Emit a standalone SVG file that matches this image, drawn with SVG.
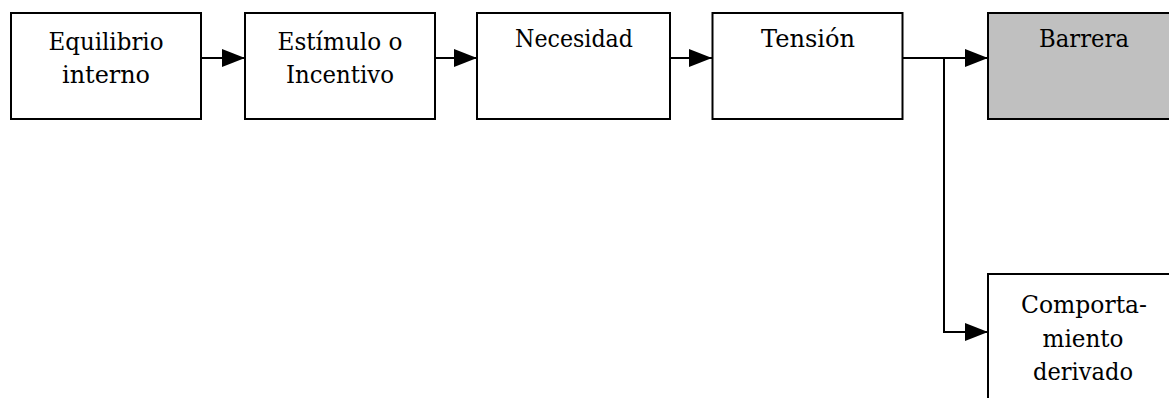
<svg xmlns="http://www.w3.org/2000/svg" width="1169" height="398" viewBox="0 0 1169 398">
<defs>
<style>
.box{fill:#ffffff;stroke:#000000;stroke-width:2}
.gray{fill:#c0c0c0}
.lbl{font-family:"DejaVu Serif","Liberation Serif",serif;font-size:24px;fill:#000000;text-anchor:middle}
.ln{fill:none;stroke:#000000;stroke-width:2}
</style>
<marker id="ah" markerUnits="userSpaceOnUse" markerWidth="24" markerHeight="20" refX="23" refY="9" orient="auto">
<path d="M0,0 L23,9 L0,18 Z" fill="#000000"/>
</marker>
</defs>
<rect width="1169" height="398" fill="#ffffff"/>
<g id="connectors">
<line class="ln" x1="201" y1="58" x2="245" y2="58" marker-end="url(#ah)"/>
<line class="ln" x1="435" y1="58" x2="477" y2="58" marker-end="url(#ah)"/>
<line class="ln" x1="670" y1="58" x2="712" y2="58" marker-end="url(#ah)"/>
<line class="ln" x1="903" y1="58" x2="988" y2="58" marker-end="url(#ah)"/>
<polyline class="ln" points="944,58 944,332 988,332" marker-end="url(#ah)"/>
</g>
<g id="n1">
<rect class="box" x="11" y="13" width="190" height="106"/>
<text class="lbl" x="106" y="50" textLength="115" lengthAdjust="spacingAndGlyphs">Equilibrio</text>
<text class="lbl" x="106" y="83" textLength="88" lengthAdjust="spacingAndGlyphs">interno</text>
</g>
<g id="n2">
<rect class="box" x="245" y="13" width="190" height="106"/>
<text class="lbl" x="340" y="50" textLength="125" lengthAdjust="spacingAndGlyphs">Estímulo o</text>
<text class="lbl" x="340" y="83" textLength="108" lengthAdjust="spacingAndGlyphs">Incentivo</text>
</g>
<g id="n3">
<rect class="box" x="477" y="13" width="193" height="106"/>
<text class="lbl" x="574" y="47" textLength="118" lengthAdjust="spacingAndGlyphs">Necesidad</text>
</g>
<g id="n4">
<rect class="box" x="712.5" y="13" width="190" height="106"/>
<text class="lbl" x="808" y="47" textLength="94" lengthAdjust="spacingAndGlyphs">Tensión</text>
</g>
<g id="n5">
<rect class="box gray" x="988" y="13" width="192" height="106"/>
<text class="lbl" x="1084" y="47" textLength="90" lengthAdjust="spacingAndGlyphs">Barrera</text>
</g>
<g id="n6">
<rect class="box" x="988" y="274" width="192" height="140"/>
<text class="lbl" x="1084" y="313" textLength="126" lengthAdjust="spacingAndGlyphs">Comporta-</text>
<text class="lbl" x="1083" y="347" textLength="81" lengthAdjust="spacingAndGlyphs">miento</text>
<text class="lbl" x="1083" y="380" textLength="100" lengthAdjust="spacingAndGlyphs">derivado</text>
</g>
</svg>
